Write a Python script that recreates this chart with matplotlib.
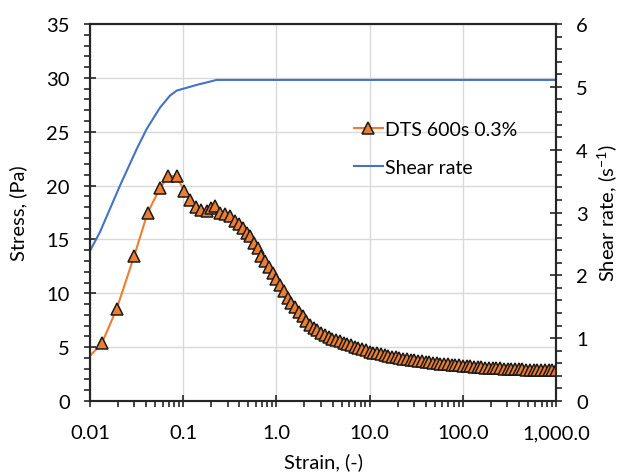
import matplotlib
matplotlib.use("Agg")
import matplotlib.pyplot as plt
from matplotlib.ticker import FixedLocator, NullFormatter

plt.rcParams['font.family'] = ['Lato', 'DejaVu Sans']
plt.rcParams['mathtext.fontset'] = 'custom'
plt.rcParams['mathtext.rm'] = 'Lato'
plt.rcParams['mathtext.it'] = 'Lato'

# stress data (DTS 600s 0.3%)
strain = [0.008, 0.0134, 0.0193, 0.0299, 0.0416, 0.0564, 0.0692, 0.0852, 0.1028, 0.119,
          0.137, 0.155, 0.178, 0.198, 0.222, 0.247, 0.28, 0.318, 0.358, 0.394,
          0.44, 0.48, 0.52, 0.575, 0.63, 0.69, 0.76, 0.83, 0.91, 1.00,
          1.10, 1.20, 1.32, 1.45, 1.58, 1.74, 1.91, 2.09, 2.29, 2.51,
          2.75, 3.02, 3.31, 3.63, 3.98, 4.37, 4.79, 5.25, 5.75, 6.31,
          6.92, 7.59, 8.32, 9.12, 10.0, 11.0, 12.0, 13.2, 14.5, 15.8,
          17.4, 19.1, 20.9, 22.9, 25.1, 27.5, 30.2, 33.1, 36.3, 39.8,
          43.7, 47.9, 52.5, 57.5, 63.1, 69.2, 75.9, 83.2, 91.2, 100.0,
          110, 120, 132, 145, 158, 174, 191, 209, 229, 251,
          275, 302, 331, 363, 398, 437, 479, 525, 575, 631,
          692, 759, 832, 912, 1000]
stress = [3.3, 5.36, 8.54, 13.5, 17.5, 19.75, 20.9, 20.85, 19.47, 18.7,
          18.0, 17.76, 17.67, 17.9, 18.07, 17.5, 17.36, 17.15, 16.74, 16.43,
          16.1, 15.6, 15.3, 14.7, 14.2, 13.5, 13.0, 12.4, 11.9, 11.3,
          10.8, 10.2, 9.6, 9.1, 8.7, 8.3, 7.9, 7.4, 7.1, 6.8,
          6.55, 6.3, 6.1, 5.95, 5.8, 5.65, 5.55, 5.4, 5.3, 5.2,
          5.05, 4.95, 4.85, 4.7, 4.55, 4.5, 4.42, 4.33, 4.25, 4.15,
          4.1, 4.04, 3.98, 3.92, 3.87, 3.82, 3.76, 3.72, 3.67, 3.62,
          3.58, 3.54, 3.5, 3.46, 3.43, 3.39, 3.36, 3.33, 3.3, 3.27,
          3.24, 3.21, 3.18, 3.16, 3.13, 3.11, 3.09, 3.07, 3.05, 3.03,
          3.01, 2.99, 2.97, 2.96, 2.94, 2.93, 2.92, 2.91, 2.9, 2.89,
          2.88, 2.87, 2.86, 2.85, 2.84]

# shear rate data
rate_strain = [0.01, 0.0128, 0.021, 0.0317, 0.0406, 0.0564, 0.0721, 0.0852, 0.139, 0.229, 1000]
shear_rate = [2.39, 2.69, 3.43, 4.01, 4.33, 4.67, 4.86, 4.94, 5.03, 5.11, 5.11]

x_ticks = [0.01, 0.1, 1, 10, 100, 1000]
x_labels = ['0.01', '0.1', '1.0', '10.0', '100.0', '1,000.0']

ORANGE = '#ED7D31'
BLUE = '#4472C4'
SPINE = '#262626'

fig = plt.figure(figsize=(6.22, 4.77), dpi=100)
ax = fig.add_axes([90 / 622, 1 - 402 / 477, 466 / 622, 377 / 477])
ax2 = ax.twinx()

l1, = ax.plot(strain, stress, color=ORANGE, linewidth=1.5, marker='^', markersize=8,
              markerfacecolor=ORANGE, markeredgecolor='#1a1a1a', markeredgewidth=1.1,
              label='DTS 600s 0.3%')
l2, = ax2.plot(rate_strain, shear_rate, color=BLUE, linewidth=1.5, label='Shear rate')

ax.set_xscale('log')
ax.set_xlim(0.01, 1000)
ax.set_ylim(0, 35)
ax2.set_ylim(0, 6)

ax.set_xticks(x_ticks)
ax.set_xticklabels(x_labels)
ax.xaxis.set_minor_locator(FixedLocator([m * 10.0 ** e for e in range(-2, 3) for m in range(2, 10)]))
ax.xaxis.set_minor_formatter(NullFormatter())
ax.set_yticks(range(0, 36, 5))
ax.yaxis.set_minor_locator(FixedLocator(range(0, 36)))
ax2.set_yticks(range(0, 7))
ax2.yaxis.set_minor_locator(FixedLocator([i * 0.2 for i in range(31)]))

ax.grid(True, which='major', color='#d9d9d9', linewidth=1.0)
ax.set_axisbelow(True)

for a in (ax, ax2):
    for s in a.spines.values():
        s.set_color(SPINE)
        s.set_linewidth(1.5)
    a.tick_params(which='major', direction='inout', length=9, width=1.2, color=SPINE, labelsize=14.5)
    a.tick_params(which='minor', direction='out', length=4, width=1.2, color=SPINE)
ax.tick_params(axis='x', pad=12)
ax.tick_params(axis='y', pad=10)
ax2.tick_params(axis='y', pad=10)

ax.set_xlabel('Strain, (-)', fontsize=14.5, labelpad=8)
ax.set_ylabel('Stress, (Pa)', fontsize=14.5, labelpad=14)
ax2.set_ylabel(r'Shear rate, (s$^{\mathregular{-1}}$)', fontsize=14.5, labelpad=5)

ax.legend([l1, l2], ['DTS 600s 0.3%', 'Shear rate'], loc='upper left',
          bbox_to_anchor=(0.528, 0.79), frameon=False, fontsize=14,
          handlelength=1.5, handletextpad=0.1, labelspacing=1.1)

fig.savefig('out.png', dpi=100)
